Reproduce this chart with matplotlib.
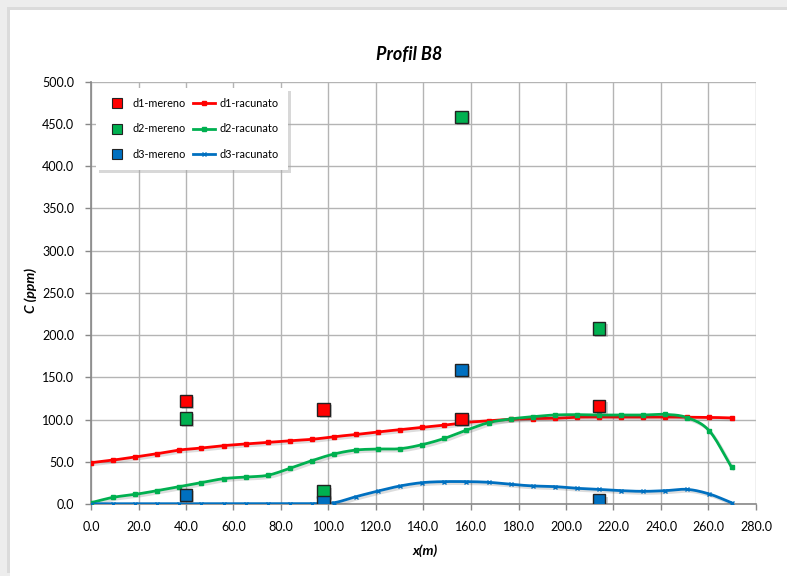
import matplotlib
matplotlib.use("Agg")
import matplotlib.pyplot as plt
import matplotlib.patheffects as pe
from matplotlib.patches import Rectangle
import numpy as np

plt.rcParams['font.family'] = ['Lato', 'DejaVu Sans']

# izracunate vrijednosti (linije)
x_rac = [0.0, 9.3, 18.6, 27.9, 37.2, 46.5, 55.8, 65.1, 74.4, 83.7,
         93.0, 102.3, 111.6, 120.9, 130.2, 139.5, 148.8, 158.1, 167.4, 176.7,
         186.0, 195.3, 204.6, 213.9, 223.2, 232.5, 241.8, 251.1, 260.4, 269.7]
d1_rac = [48.9, 52.0, 55.7, 59.6, 63.9, 66.3, 69.1, 71.1, 73.0, 75.0,
          76.6, 79.7, 82.3, 85.4, 88.0, 90.8, 93.4, 96.6, 98.5, 100.3,
          101.1, 101.5, 102.8, 103.0, 103.0, 103.0, 103.0, 102.8, 102.6, 101.9]
d2_rac = [1.5, 7.9, 11.4, 15.8, 20.6, 25.3, 30.0, 32.0, 34.0, 42.2,
          51.3, 59.2, 63.9, 65.1, 65.5, 70.3, 77.7, 87.5, 96.3, 100.7,
          103.4, 105.4, 105.8, 105.4, 105.4, 105.4, 106.1, 102.2, 86.4, 43.5]
d3_rac = [0.3, 0.3, 0.3, 0.3, 0.3, 0.3, 0.3, 0.3, 0.3, 0.3,
          0.5, 1.5, 8.7, 15.4, 21.4, 25.3, 26.5, 26.5, 25.7, 23.3,
          21.4, 20.6, 18.6, 17.3, 15.8, 15.0, 15.8, 17.3, 11.8, 1.5]

# mjerene vrijednosti (tocke)
x_mj = [40, 98, 156, 214]
d1_mj = [122.0, 112.1, 100.6, 116.0]
d2_mj = [101.5, 14.6, 458.4, 207.6]
d3_mj = [10.7, 2.4, 158.7, 3.9]

crvena = '#ff0000'
zelena = '#00b050'
plava = '#0070c0'


def zagladi(x, y, n=12):
    # Catmull-Rom glatka linija kroz tocke (kao Excel "smoothed line")
    x = np.asarray(x, float)
    y = np.asarray(y, float)
    px = np.concatenate([[2 * x[0] - x[1]], x, [2 * x[-1] - x[-2]]])
    py = np.concatenate([[2 * y[0] - y[1]], y, [2 * y[-1] - y[-2]]])
    xs, ys = [], []
    t = np.linspace(0, 1, n, endpoint=False)
    for i in range(1, len(px) - 2):
        for p, out in ((px, xs), (py, ys)):
            p0, p1, p2, p3 = p[i - 1], p[i], p[i + 1], p[i + 2]
            out.extend(0.5 * (2 * p1 + (-p0 + p2) * t
                              + (2 * p0 - 5 * p1 + 4 * p2 - p3) * t ** 2
                              + (-p0 + 3 * p1 - 3 * p2 + p3) * t ** 3))
    xs.append(x[-1])
    ys.append(y[-1])
    return xs, np.clip(ys, 0.2, None)


fig = plt.figure(figsize=(7.87, 5.76), dpi=100)
fig.patch.set_facecolor('#ededed')
okvir = Rectangle((10 / 787, 0), 1, 1 - 10 / 576, transform=fig.transFigure,
                  facecolor='white', edgecolor='none', zorder=-5,
                  path_effects=[pe.withSimplePatchShadow(offset=(-2, 2), shadow_rgbFace='#d0d0d0', alpha=0.6)])
fig.patches.append(okvir)

ax = fig.add_axes([91 / 787, 1 - 504 / 576, 665 / 787, 422.3 / 576])
ax.set_facecolor('white')

sjena = [pe.SimpleLineShadow(offset=(1.5, -1.5), shadow_color='#444444', alpha=0.18), pe.Normal()]

for y, boja, mk, ime in ((d1_rac, crvena, 's', 'd1-racunato'),
                         (d2_rac, zelena, 's', 'd2-racunato'),
                         (d3_rac, plava, 'x', 'd3-racunato')):
    xs, ys = zagladi(x_rac, y)
    ax.plot(xs, ys, color=boja, lw=2.0, zorder=3, path_effects=sjena)
    ax.plot(x_rac, y, ls='none', marker=mk, ms=3, color=boja, mew=1, zorder=4)

for y, boja, ime in ((d1_mj, crvena, 'd1-mereno'),
                     (d2_mj, zelena, 'd2-mereno'),
                     (d3_mj, plava, 'd3-mereno')):
    ax.plot(x_mj, y, ls='none', marker='s', ms=9, mfc=boja, mec='#222222', mew=1.0,
            zorder=5, path_effects=[pe.withSimplePatchShadow(offset=(1.5, -1.5),
                                                             shadow_rgbFace='#777777', alpha=0.35)])

# legenda
h = []
for boja, ime in ((crvena, 'd1-mereno'), (zelena, 'd2-mereno'), (plava, 'd3-mereno')):
    h.append(ax.plot([], [], ls='none', marker='s', ms=6.5, mfc=boja, mec='#222222', mew=0.8,
                     label=ime)[0])
for boja, mk, ime in ((crvena, 's', 'd1-racunato'), (zelena, 's', 'd2-racunato'), (plava, 'x', 'd3-racunato')):
    h.append(ax.plot([], [], color=boja, lw=2, marker=mk, ms=3, label=ime)[0])
leg = ax.legend(handles=h, ncol=2, loc='upper left', bbox_to_anchor=(0.008, 0.985),
                borderaxespad=0, fontsize=7.8, frameon=True, fancybox=False,
                shadow={'color': '#aaaaaa', 'alpha': 0.45},
                handlelength=2.0, labelspacing=1.35, columnspacing=0.7,
                borderpad=0.9, handletextpad=0.4)
leg.get_frame().set_edgecolor('white')
leg.get_frame().set_linewidth(0)
leg.set_zorder(6)

ax.set_xlim(0, 280)
ax.set_ylim(0, 500)
ax.set_xticks(np.arange(0, 281, 20))
ax.set_yticks(np.arange(0, 501, 50))
ax.set_xticklabels([f'{v:.1f}' for v in np.arange(0, 281, 20)], fontsize=9)
ax.set_yticklabels([f'{v:.1f}' for v in np.arange(0, 501, 50)], fontsize=9)
ax.grid(True, color='#b4b4b4', lw=1.0, zorder=0)
ax.set_axisbelow(True)
ax.tick_params(direction='out', length=4, color='#888888', width=1, pad=8)
for s in ('top', 'right'):
    ax.spines[s].set_visible(False)
for s in ('left', 'bottom'):
    ax.spines[s].set_color('#888888')
    ax.spines[s].set_linewidth(1.2)

fig.text(409 / 787, 1 - 55 / 576, 'Profil B8', ha='center', va='center',
         fontsize=13, fontweight='bold', fontstyle='italic')
fig.text(425 / 787, 1 - 551 / 576, 'x(m)', ha='center', va='center',
         fontsize=10, fontweight='bold', fontstyle='italic')
fig.text(31 / 787, 1 - 290 / 576, 'C (ppm)', ha='center', va='center', rotation=90,
         fontsize=10, fontweight='bold', fontstyle='italic')

fig.savefig('out.png', dpi=100)
